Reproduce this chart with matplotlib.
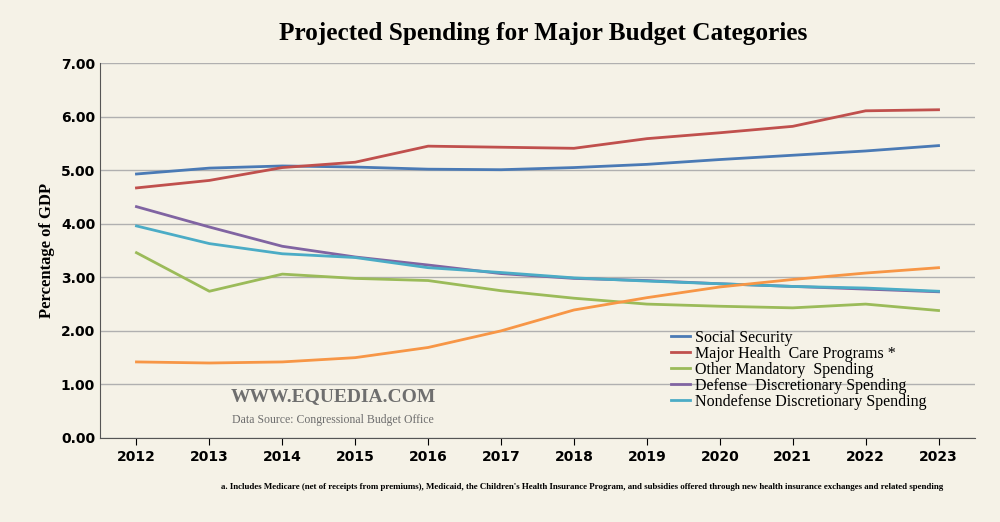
import matplotlib
matplotlib.use("Agg")
import matplotlib.pyplot as plt

years = list(range(2012, 2024))
social_security = [4.93, 5.04, 5.08, 5.06, 5.02, 5.01, 5.05, 5.11, 5.20, 5.28, 5.36, 5.46]
health = [4.67, 4.81, 5.05, 5.15, 5.45, 5.43, 5.41, 5.59, 5.70, 5.82, 6.11, 6.13]
other_mandatory = [3.46, 2.74, 3.06, 2.98, 2.94, 2.75, 2.61, 2.50, 2.46, 2.43, 2.50, 2.38]
defense = [4.32, 3.94, 3.58, 3.38, 3.23, 3.07, 2.98, 2.94, 2.88, 2.83, 2.78, 2.73]
nondefense = [3.96, 3.63, 3.44, 3.37, 3.18, 3.09, 2.99, 2.93, 2.88, 2.83, 2.80, 2.74]
net_interest = [1.42, 1.40, 1.42, 1.50, 1.69, 2.00, 2.39, 2.62, 2.82, 2.96, 3.08, 3.18]

bg = "#f5f2e7"
fig = plt.figure(figsize=(10, 5.22), dpi=100, facecolor=bg)
ax = fig.add_axes([0.1, 0.161, 0.875, 0.718], facecolor=bg)

series = [
    ("Social Security", social_security, "#4a7ab5"),
    ("Major Health  Care Programs *", health, "#c0504d"),
    ("Other Mandatory  Spending", other_mandatory, "#9bbb59"),
    ("Defense  Discretionary Spending", defense, "#8064a2"),
    ("Nondefense Discretionary Spending", nondefense, "#4bacc6"),
]
for lab, vals, c in series:
    ax.plot(years, vals, color=c, lw=2, label=lab)
ax.plot(years, net_interest, color="#f79646", lw=2, label="_nolegend_")

ax.set_xlim(2011.5, 2023.5)
ax.set_ylim(0, 7)
ax.set_yticks([i for i in range(8)])
ax.set_yticklabels([f"{i:.2f}" for i in range(8)], fontsize=10, fontweight="bold")
ax.set_xticks(years)
ax.set_xticklabels([str(y) for y in years], fontsize=10, fontweight="bold")
ax.yaxis.grid(True, color="#b0b0b0", lw=1)
ax.set_axisbelow(True)
for s in ["top", "right"]:
    ax.spines[s].set_visible(False)
ax.spines["left"].set_color("#555555")
ax.spines["bottom"].set_color("#555555")
ax.tick_params(axis="y", length=0)
ax.tick_params(axis="x", length=5, direction="out")

ax.set_ylabel("Percentage of GDP", family="Liberation Serif", fontsize=12, fontweight="bold")
fig.text(0.543, 0.935, "Projected Spending for Major Budget Categories", ha="center", va="center",
         family="Liberation Serif", fontsize=18.2, fontweight="bold")

leg = ax.legend(loc="upper left", bbox_to_anchor=(0.645, 0.305), frameon=False,
                prop={"family": "Liberation Serif", "size": 11.5}, handlelength=1.2,
                labelspacing=0.0, handletextpad=0.3, borderaxespad=0)

fig.text(0.333, 0.241, "WWW.EQUEDIA.COM", ha="center", va="center", family="Liberation Serif",
         fontsize=14, fontweight="bold", color="#6e6e6e")
fig.text(0.333, 0.195, "Data Source: Congressional Budget Office", ha="center", va="center",
         family="Liberation Serif", fontsize=8.5, color="#6e6e6e")
fig.text(0.582, 0.067, "a. Includes Medicare (net of receipts from premiums), Medicaid, the Children's Health Insurance Program, and subsidies offered through new health insurance exchanges and related spending",
         ha="center", va="center", family="Liberation Serif", fontsize=6.4, fontweight="bold")

fig.savefig("out.png", dpi=100, facecolor=bg)
